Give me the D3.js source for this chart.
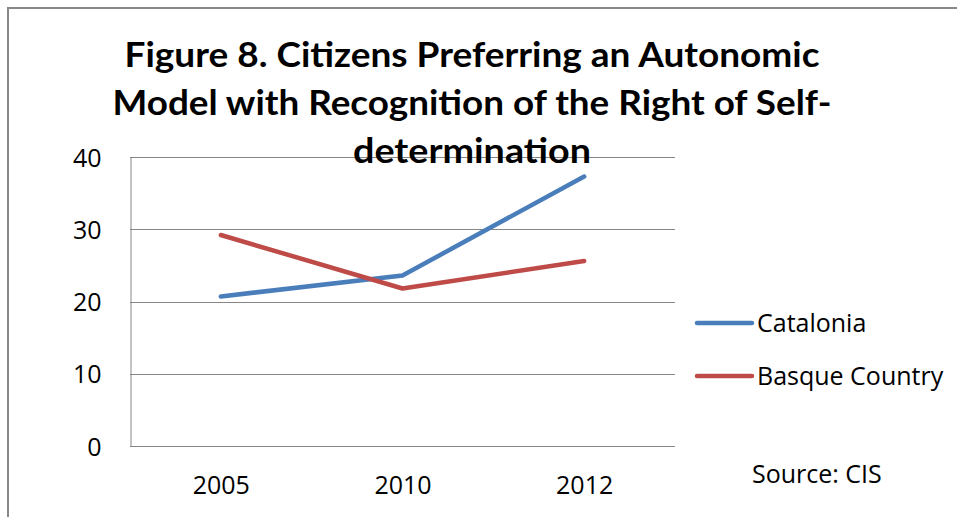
<!DOCTYPE html>
<html>
<head>
<meta charset="utf-8">
<script src="https://cdn.jsdelivr.net/npm/d3@7"></script>
<style>
  body { margin: 0; background: #fff; }
  svg { display: block; }
</style>
</head>
<body>
<svg id="chart" width="957" height="517"></svg>
<script>
var years = ["2005", "2010", "2012"];
var catalonia = [20.7, 23.6, 37.3];
var basque = [29.2, 21.8, 25.6];
var seriesNames = ["Catalonia", "Basque Country"];
var yTicks = [0, 10, 20, 30, 40];
var titleLines = ["Figure 8. Citizens Preferring an Autonomic",
                  "Model with Recognition of the Right of Self-",
                  "determination"];
var sourceText = "Source: CIS";

var colors = ["#4a7ebb", "#be4b48"];
var bodyFont = "'Open Sans', sans-serif";

var svg = d3.select("#chart");

// outer frame (only top + left visible in the crop)
svg.append("path")
    .attr("d", "M8,517 L8,8 L957,8")
    .attr("fill", "none")
    .attr("stroke", "#888")
    .attr("stroke-width", 2);

var plot = {left: 130, right: 675, top: 157, bottom: 446};

var x = d3.scalePoint().domain(years).range([plot.left, plot.right]).padding(0.5);
var y = d3.scaleLinear().domain([0, 40]).range([plot.bottom, plot.top]);

// gridlines
svg.append("g")
  .selectAll("line")
  .data(yTicks)
  .enter().append("line")
    .attr("x1", plot.left)
    .attr("x2", plot.right)
    .attr("y1", function(d) { return Math.round(y(d)) + 0.5; })
    .attr("y2", function(d) { return Math.round(y(d)) + 0.5; })
    .attr("stroke", "#868686")
    .attr("stroke-width", 1);

// y axis
var yAxis = d3.axisLeft(y).tickValues(yTicks).tickSize(0).tickPadding(29);
var gy = svg.append("g")
    .attr("transform", "translate(" + (plot.left + 0.5) + ",0)")
    .call(yAxis);
gy.select(".domain").attr("stroke", "#868686");
gy.selectAll("text")
    .attr("font-family", bodyFont)
    .attr("font-size", "25px")
    .attr("fill", "#000")
    .attr("dy", "0.36em");

// x axis labels
var xAxis = d3.axisBottom(x).tickSize(0).tickPadding(30);
var gx = svg.append("g")
    .attr("transform", "translate(0," + plot.bottom + ")")
    .call(xAxis);
gx.select(".domain").remove();
gx.selectAll("text")
    .attr("font-family", bodyFont)
    .attr("font-size", "25px")
    .attr("fill", "#000");

// lines
var line = d3.line()
    .x(function(d, i) { return x(years[i]); })
    .y(function(d) { return y(d); });

[catalonia, basque].forEach(function(vals, i) {
  svg.append("path")
      .attr("d", line(vals))
      .attr("fill", "none")
      .attr("stroke", colors[i])
      .attr("stroke-width", 4.5)
      .attr("stroke-linejoin", "round")
      .attr("stroke-linecap", "round");
});

// title
var titleY = [67, 115, 163];
var titleW = [695, 719, 238];
titleLines.forEach(function(t, i) {
  svg.append("text")
      .attr("x", 472)
      .attr("y", titleY[i])
      .attr("text-anchor", "middle")
      .attr("font-family", "Lato, 'Open Sans', sans-serif")
      .attr("font-weight", "700")
      .attr("font-size", "34px")
      .attr("fill", "#000")
      .attr("textLength", titleW[i])
      .attr("lengthAdjust", "spacingAndGlyphs")
      .text(t);
});

// legend
var legend = svg.append("g");
seriesNames.forEach(function(name, i) {
  var ly = 323 + i * 53;
  legend.append("line")
      .attr("x1", 697).attr("x2", 752)
      .attr("y1", ly).attr("y2", ly)
      .attr("stroke", colors[i])
      .attr("stroke-width", 4.5)
      .attr("stroke-linecap", "round");
  legend.append("text")
      .attr("x", 757)
      .attr("y", ly + 9)
      .attr("font-family", bodyFont)
      .attr("font-size", "25px")
      .attr("fill", "#000")
      .text(name);
});

svg.append("text")
    .attr("x", 752)
    .attr("y", 483)
    .attr("font-family", bodyFont)
    .attr("font-size", "25px")
    .attr("fill", "#000")
    .text(sourceText);
</script>
</body>
</html>
